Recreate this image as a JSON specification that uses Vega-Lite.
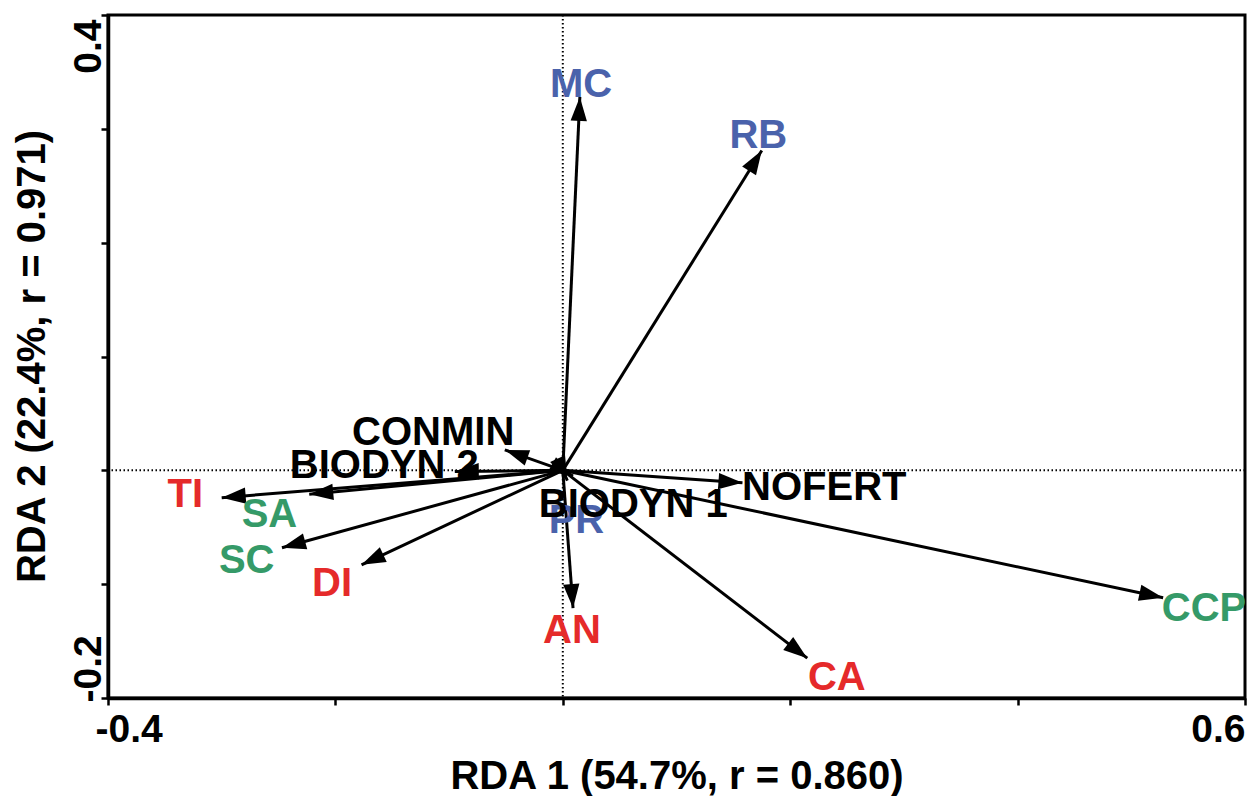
{
  "$schema": "https://vega.github.io/schema/vega-lite/v6.json",
  "width": 1137,
  "height": 683,
  "autosize": {"type": "none"},
  "padding": {"left": 108, "top": 15, "right": 2, "bottom": 98},
  "background": "white",
  "config": {
    "font": "Liberation Sans",
    "view": {"stroke": "black", "strokeWidth": 3},
    "axis": {
      "grid": false,
      "domainColor": "black",
      "domainWidth": 3.5,
      "tickColor": "black",
      "tickWidth": 2.5,
      "tickSize": 7,
      "labelFont": "Liberation Sans",
      "labelFontWeight": "bold",
      "labelFontSize": 39,
      "labelColor": "black",
      "titleFont": "Liberation Sans",
      "titleFontWeight": "bold",
      "titleFontSize": 40,
      "titleColor": "black"
    }
  },
  "datasets": {
    "vectors": [
      {"label": "MC", "group": "B", "x": 0.015, "y": 0.328, "lx": 0.016, "ly": 0.328},
      {"label": "RB", "group": "B", "x": 0.175, "y": 0.281, "lx": 0.172, "ly": 0.283},
      {"label": "PR", "group": "B", "x": 0.004, "y": -0.009, "lx": 0.012, "ly": -0.055},
      {"label": "CCP", "group": "C", "x": 0.528, "y": -0.112, "lx": 0.564, "ly": -0.132},
      {"label": "SA", "group": "C", "x": -0.223, "y": -0.021, "lx": -0.258, "ly": -0.05},
      {"label": "SC", "group": "C", "x": -0.247, "y": -0.068, "lx": -0.278, "ly": -0.09},
      {"label": "CA", "group": "A", "x": 0.215, "y": -0.165, "lx": 0.241, "ly": -0.193},
      {"label": "AN", "group": "A", "x": 0.009, "y": -0.121, "lx": 0.008, "ly": -0.152},
      {"label": "TI", "group": "A", "x": -0.3, "y": -0.024, "lx": -0.332, "ly": -0.032},
      {"label": "DI", "group": "A", "x": -0.177, "y": -0.083, "lx": -0.203, "ly": -0.11},
      {"label": "NOFERT", "group": "T", "x": 0.158, "y": -0.011, "lx": 0.23, "ly": -0.026},
      {"label": "BIODYN 1", "group": "T", "x": 0.009, "y": -0.005, "lx": 0.062, "ly": -0.041},
      {"label": "CONMIN", "group": "T", "x": -0.051, "y": 0.018, "lx": -0.114, "ly": 0.022},
      {"label": "BIODYN 2", "group": "T", "x": -0.095, "y": -0.001, "lx": -0.157, "ly": -0.007}
    ]
  },
  "encoding": {
    "x": {
      "field": "x", "type": "quantitative",
      "scale": {"domain": [-0.4, 0.6], "nice": false, "zero": false},
      "axis": {
        "title": "RDA 1 (54.7%, r = 0.860)",
        "values": [-0.4, -0.2, 0, 0.2, 0.4, 0.6],
        "labelExpr": "datum.value < -0.3 ? '-0.4' : (datum.value > 0.5 ? '0.6' : '')",
        "labelAlign": {"condition": {"test": "datum.value < 0", "value": "left"}, "value": "right"},
        "labelOffset": {"expr": "datum.value < 0 ? -13 : 0"},
        "labelBaseline": "top",
        "labelPadding": 5,
        "labelFlush": false,
        "labelOverlap": false,
        "titleX": 568.5,
        "titleY": 90,
        "titleAlign": "center",
        "titleBaseline": "alphabetic",
        "encode": {
          "ticks": {"y": {"value": -7}, "y2": {"value": 7}}
        }
      }
    },
    "y": {
      "field": "y", "type": "quantitative",
      "scale": {"domain": [-0.2, 0.4], "nice": false, "zero": false},
      "axis": {
        "title": "RDA 2 (22.4%, r = 0.971)",
        "values": [-0.2, -0.1, 0, 0.1, 0.2, 0.3, 0.4],
        "labelExpr": "datum.value < -0.15 ? '-0.2' : (datum.value > 0.35 ? '0.4' : '')",
        "labelAngle": 270,
        "labelAlign": {"condition": {"test": "datum.value < 0", "value": "left"}, "value": "right"},
        "labelBaseline": "alphabetic",
        "labelOffset": 4,
        "labelPadding": 1,
        "labelFlush": false,
        "labelOverlap": false,
        "titleAngle": 270,
        "titleX": -64,
        "titleY": 341,
        "titleAlign": "center",
        "titleBaseline": "alphabetic",
        "encode": {
          "ticks": {"x": {"value": -7}, "x2": {"value": 7}}
        }
      }
    }
  },
  "layer": [
    {
      "data": {"values": [{"x": 0}]},
      "mark": {"type": "rule", "strokeDash": [1.5, 2.5], "strokeWidth": 2, "color": "black"},
      "encoding": {"y": null}
    },
    {
      "data": {"values": [{"y": 0}]},
      "mark": {"type": "rule", "strokeDash": [1.5, 2.5], "strokeWidth": 2, "color": "black"},
      "encoding": {"x": null}
    },
    {
      "data": {"name": "vectors"},
      "mark": {"type": "rule", "strokeWidth": 3, "color": "black"},
      "encoding": {
        "x2": {"datum": 0},
        "y2": {"datum": 0}
      }
    },
    {
      "data": {"name": "vectors"},
      "mark": {
        "type": "point",
        "shape": "M0,0L-0.34,1L0.34,1Z",
        "size": 2304,
        "filled": true,
        "color": "black",
        "opacity": 1,
        "angle": {"expr": "atan2(datum.x, datum.y) * 180 / PI"}
      }
    },
    {
      "data": {"name": "vectors"},
      "mark": {"type": "text", "font": "Liberation Sans", "fontWeight": "bold", "fontSize": 40, "align": "center", "baseline": "alphabetic"},
      "encoding": {
        "x": {"field": "lx", "type": "quantitative"},
        "y": {"field": "ly", "type": "quantitative"},
        "text": {"field": "label"},
        "color": {
          "field": "group", "type": "nominal",
          "scale": {"domain": ["A", "B", "C", "T"], "range": ["#e52a2a", "#4a62ab", "#359a68", "#000000"]},
          "legend": null
        }
      }
    }
  ]
}
